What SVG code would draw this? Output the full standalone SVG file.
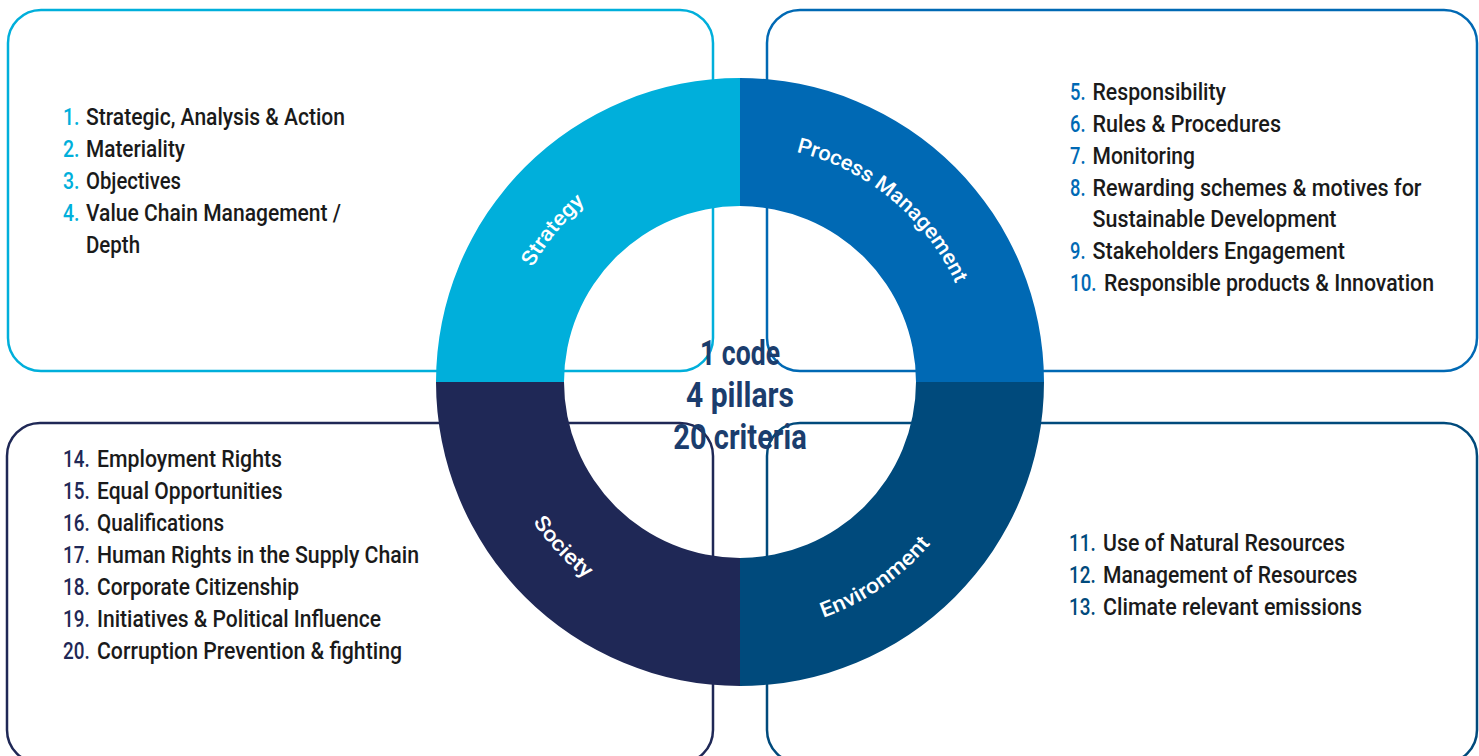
<svg xmlns="http://www.w3.org/2000/svg" width="1479" height="756" viewBox="0 0 1479 756">
<style>
.box{fill:#fff;stroke-width:2.5}
.item{font-family:Roboto,"Liberation Sans",sans-serif;font-weight:500;font-size:24px;fill:#1a1a1a}
.num{font-family:Roboto,"Liberation Sans",sans-serif;font-weight:500;font-size:24px}
.lbl{font-family:Roboto,"Liberation Sans",sans-serif;font-weight:500;font-size:21px;fill:#fff}
.ctr{font-family:Roboto,"Liberation Sans",sans-serif;font-weight:700;font-size:35px;fill:#1b3d6d}
</style>
<defs>
<path id="topArc" d="M 503,382 A 237 237 0 0 1 977,382"/>
<path id="botArc" d="M 490,382 A 250 250 0 0 0 990,382"/>
</defs>
<rect width="1479" height="756" fill="#fff"/>

<g id="box-strategy">
<rect class="box" x="8" y="10" width="705" height="361" rx="33" stroke="#00AFDB"/>
<g fill="#00AFDB">
<text class="num" x="63" y="125" textLength="16.5" lengthAdjust="spacingAndGlyphs">1.</text>
<text class="num" x="63" y="157" textLength="16.5" lengthAdjust="spacingAndGlyphs">2.</text>
<text class="num" x="63" y="189" textLength="16.5" lengthAdjust="spacingAndGlyphs">3.</text>
<text class="num" x="63" y="221" textLength="16.5" lengthAdjust="spacingAndGlyphs">4.</text>
</g>
<text class="item" x="86" y="125" textLength="259" lengthAdjust="spacingAndGlyphs">Strategic, Analysis &amp; Action</text>
<text class="item" x="86" y="157" textLength="99" lengthAdjust="spacingAndGlyphs">Materiality</text>
<text class="item" x="86" y="189" textLength="95" lengthAdjust="spacingAndGlyphs">Objectives</text>
<text class="item" x="86" y="221" textLength="255" lengthAdjust="spacingAndGlyphs">Value Chain Management /</text>
<text class="item" x="86" y="253" textLength="54" lengthAdjust="spacingAndGlyphs">Depth</text>
</g>

<g id="box-process">
<rect class="box" x="767" y="10" width="710" height="361" rx="33" stroke="#0069B4"/>
<g fill="#0069B4">
<text class="num" x="1070" y="100" textLength="15.5" lengthAdjust="spacingAndGlyphs">5.</text>
<text class="num" x="1070" y="132" textLength="15.5" lengthAdjust="spacingAndGlyphs">6.</text>
<text class="num" x="1070" y="164" textLength="15.5" lengthAdjust="spacingAndGlyphs">7.</text>
<text class="num" x="1070" y="195.5" textLength="15.5" lengthAdjust="spacingAndGlyphs">8.</text>
<text class="num" x="1070" y="259" textLength="15.5" lengthAdjust="spacingAndGlyphs">9.</text>
<text class="num" x="1070" y="291" textLength="26.5" lengthAdjust="spacingAndGlyphs">10.</text>
</g>
<text class="item" x="1092.5" y="100" textLength="133.5" lengthAdjust="spacingAndGlyphs">Responsibility</text>
<text class="item" x="1092.5" y="132" textLength="188.5" lengthAdjust="spacingAndGlyphs">Rules &amp; Procedures</text>
<text class="item" x="1092.5" y="164" textLength="102.5" lengthAdjust="spacingAndGlyphs">Monitoring</text>
<text class="item" x="1092.5" y="195.5" textLength="329" lengthAdjust="spacingAndGlyphs">Rewarding schemes &amp; motives for</text>
<text class="item" x="1092.5" y="227" textLength="244" lengthAdjust="spacingAndGlyphs">Sustainable Development</text>
<text class="item" x="1092.5" y="259" textLength="252.5" lengthAdjust="spacingAndGlyphs">Stakeholders Engagement</text>
<text class="item" x="1104" y="291" textLength="330" lengthAdjust="spacingAndGlyphs">Responsible products &amp; Innovation</text>
</g>

<g id="box-society">
<rect class="box" x="7" y="423" width="706" height="340" rx="33" stroke="#1F2856"/>
<g fill="#1F2856">
<text class="num" x="63" y="467" textLength="26.7" lengthAdjust="spacingAndGlyphs">14.</text>
<text class="num" x="63" y="499" textLength="26.7" lengthAdjust="spacingAndGlyphs">15.</text>
<text class="num" x="63" y="531" textLength="26.7" lengthAdjust="spacingAndGlyphs">16.</text>
<text class="num" x="63" y="563" textLength="26.7" lengthAdjust="spacingAndGlyphs">17.</text>
<text class="num" x="63" y="594.5" textLength="26.7" lengthAdjust="spacingAndGlyphs">18.</text>
<text class="num" x="63" y="626.5" textLength="26.7" lengthAdjust="spacingAndGlyphs">19.</text>
<text class="num" x="63" y="658.5" textLength="26.7" lengthAdjust="spacingAndGlyphs">20.</text>
</g>
<text class="item" x="97" y="467" textLength="185" lengthAdjust="spacingAndGlyphs">Employment Rights</text>
<text class="item" x="97" y="499" textLength="185.6" lengthAdjust="spacingAndGlyphs">Equal Opportunities</text>
<text class="item" x="97" y="531" textLength="127" lengthAdjust="spacingAndGlyphs">Qualifications</text>
<text class="item" x="97" y="563" textLength="322" lengthAdjust="spacingAndGlyphs">Human Rights in the Supply Chain</text>
<text class="item" x="97" y="594.5" textLength="202" lengthAdjust="spacingAndGlyphs">Corporate Citizenship</text>
<text class="item" x="97" y="626.5" textLength="284" lengthAdjust="spacingAndGlyphs">Initiatives &amp; Political Influence</text>
<text class="item" x="97" y="658.5" textLength="305" lengthAdjust="spacingAndGlyphs">Corruption Prevention &amp; fighting</text>
</g>

<g id="box-environment">
<rect class="box" x="767" y="423" width="710" height="340" rx="33" stroke="#004A7C"/>
<g fill="#004A7C">
<text class="num" x="1069" y="551" textLength="26.7" lengthAdjust="spacingAndGlyphs">11.</text>
<text class="num" x="1069" y="583" textLength="26.7" lengthAdjust="spacingAndGlyphs">12.</text>
<text class="num" x="1069" y="614.5" textLength="26.7" lengthAdjust="spacingAndGlyphs">13.</text>
</g>
<text class="item" x="1103" y="551" textLength="242" lengthAdjust="spacingAndGlyphs">Use of Natural Resources</text>
<text class="item" x="1103" y="583" textLength="254.5" lengthAdjust="spacingAndGlyphs">Management of Resources</text>
<text class="item" x="1103" y="614.5" textLength="259" lengthAdjust="spacingAndGlyphs">Climate relevant emissions</text>
</g>

<g id="ring">
<g id="seg-strategy">
<path d="M 436,382 A 304 304 0 0 1 740,78 L 740,206 A 176 176 0 0 0 564,382 Z" fill="#00AFDB"/>
<text class="lbl"><textPath href="#topArc" startOffset="21.7%" text-anchor="middle" textLength="84" lengthAdjust="spacingAndGlyphs">Strategy</textPath></text>
</g>
<g id="seg-process">
<path d="M 740,78 A 304 304 0 0 1 1044,382 L 916,382 A 176 176 0 0 0 740,206 Z" fill="#0069B4"/>
<text class="lbl"><textPath href="#topArc" startOffset="72%" text-anchor="middle" textLength="214" lengthAdjust="spacingAndGlyphs">Process Management</textPath></text>
</g>
<g id="seg-environment">
<path d="M 1044,382 A 304 304 0 0 1 740,686 L 740,558 A 176 176 0 0 0 916,382 Z" fill="#004A7C"/>
<text class="lbl"><textPath href="#botArc" startOffset="69.2%" text-anchor="middle" textLength="132" lengthAdjust="spacingAndGlyphs">Environment</textPath></text>
</g>
<g id="seg-society">
<path d="M 740,686 A 304 304 0 0 1 436,382 L 564,382 A 176 176 0 0 0 740,558 Z" fill="#1F2856"/>
<text class="lbl"><textPath href="#botArc" startOffset="23.9%" text-anchor="middle" textLength="78" lengthAdjust="spacingAndGlyphs">Society</textPath></text>
</g>
</g>

<g id="center">
<text class="ctr" x="740" y="365" text-anchor="middle" textLength="80" lengthAdjust="spacingAndGlyphs">1 code</text>
<text class="ctr" x="740" y="407" text-anchor="middle" textLength="108" lengthAdjust="spacingAndGlyphs">4 pillars</text>
<text class="ctr" x="740" y="449" text-anchor="middle" textLength="133.5" lengthAdjust="spacingAndGlyphs">20 criteria</text>
</g>
</svg>
